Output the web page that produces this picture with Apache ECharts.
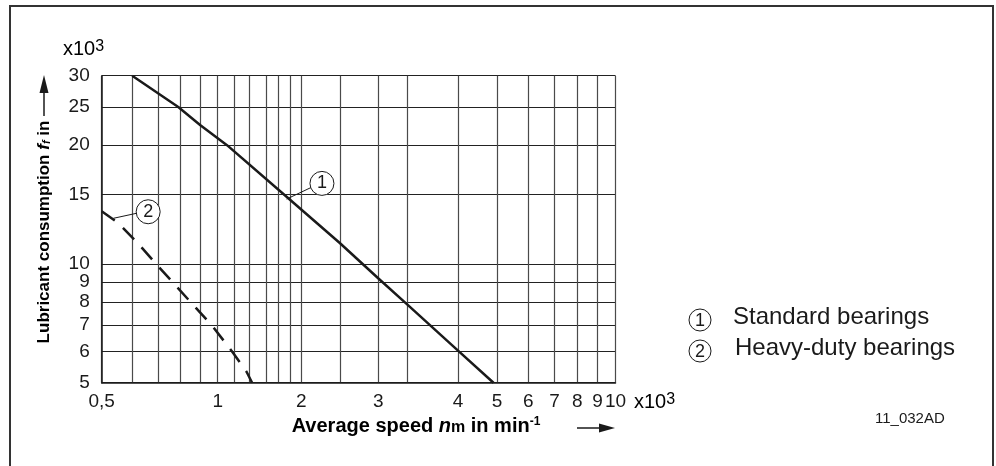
<!DOCTYPE html>
<html>
<head>
<meta charset="utf-8">
<script src="https://cdn.jsdelivr.net/npm/echarts@6/dist/echarts.min.js"></script>
<style>
  html, body { margin: 0; padding: 0; background: #fff; }
  #container { width: 996px; height: 466px; }
</style>
</head>
<body>
<div id="container"></div>
<script>
// speed in x10^3 min^-1, consumption in x10^3
var standardSpeed = [0.6, 0.79, 0.9, 1.08, 1.77, 2.45, 3, 3.33, 4, 4.9];
var standardUse = [30, 25, 22.5, 20, 14.8, 11.3, 9.2, 7.9, 6.03, 5];
var heavySpeed = [0.5, 0.552, 0.62, 0.695, 0.775, 0.864, 0.97, 1.14, 1.27, 1.33];
var heavyUse = [13.6, 12.7, 11.3, 9.95, 8.85, 7.87, 6.95, 5.93, 5.33, 5];

var xLabels = [0.5, 1, 2, 3, 4, 5, 6, 7, 8, 9, 10];
var xGrid = [0.5, 0.6, 0.7, 0.8, 0.9, 1, 1.15, 1.3, 1.5, 1.65, 1.83, 2, 2.45, 3, 3.33, 4, 5, 6, 7, 8, 9, 10];
var yLabels = [5, 6, 7, 8, 9, 10, 15, 20, 25, 30];

// the speed axis is not one log scale, each section between these values has its own length
var xKnots = [0.5, 1, 2, 3, 4, 5, 10];
var xKnotPos = [0, 0.2258, 0.3885, 0.5381, 0.6935, 0.7694, 1];

function toAxis(v) {
  var i = 0;
  while (i < xKnots.length - 2 && v > xKnots[i + 1]) i++;
  var t = Math.log(v / xKnots[i]) / Math.log(xKnots[i + 1] / xKnots[i]);
  return xKnotPos[i] + t * (xKnotPos[i + 1] - xKnotPos[i]);
}

function fromAxis(u) {
  var i = 0;
  while (i < xKnotPos.length - 2 && u > xKnotPos[i + 1] + 1e-9) i++;
  var t = (u - xKnotPos[i]) / (xKnotPos[i + 1] - xKnotPos[i]);
  return xKnots[i] * Math.pow(xKnots[i + 1] / xKnots[i], t);
}

function pairs(xs, ys) {
  return xs.map(function (x, i) { return [toAxis(x), ys[i]]; });
}

var font = 'Liberation Sans, Arial, sans-serif';
var ink = '#1a1a1a';

function circled(x, y) {
  return {
    coord: [toAxis(x), y],
    symbol: 'circle',
    symbolSize: 24,
    itemStyle: { color: '#fff', borderColor: ink, borderWidth: 1 },
    label: { show: true, position: 'inside', color: ink, fontSize: 18, fontFamily: font }
  };
}

function leader(x1, y1, x2, y2) {
  return [{ coord: [toAxis(x1), y1] }, { coord: [toAxis(x2), y2] }];
}

function arrowUp(x, yTail, yTip) {
  return {
    type: 'group',
    children: [
      { type: 'line', shape: { x1: x, y1: yTail, x2: x, y2: yTip + 16 }, style: { stroke: ink, lineWidth: 1.5 } },
      { type: 'polygon', shape: { points: [[x - 4.5, yTip + 18], [x + 4.5, yTip + 18], [x, yTip]] }, style: { fill: ink } }
    ]
  };
}

function arrowRight(xTail, xTip, y) {
  return {
    type: 'group',
    children: [
      { type: 'line', shape: { x1: xTail, y1: y, x2: xTip - 12, y2: y }, style: { stroke: ink, lineWidth: 1.5 } },
      { type: 'polygon', shape: { points: [[xTip - 16, y - 4.5], [xTip - 16, y + 4.5], [xTip, y]] }, style: { fill: ink } }
    ]
  };
}

function legendItem(num, text, cy, tx) {
  return {
    type: 'group',
    children: [
      { type: 'circle', shape: { cx: 700, cy: cy, r: 11 }, style: { fill: '#fff', stroke: ink, lineWidth: 1 } },
      { type: 'text', x: 700, y: cy + 1, style: { text: num, font: '18px ' + font, fill: ink, align: 'center', verticalAlign: 'middle' } },
      { type: 'text', x: tx, y: cy - 3, style: { text: text, font: '24px ' + font, fill: ink, align: 'left', verticalAlign: 'middle' } }
    ]
  };
}

var unitRich = {
  a: { fontSize: 20, fontFamily: font, color: ink, verticalAlign: 'bottom' },
  b: { fontSize: 16, fontFamily: font, color: ink, verticalAlign: 'top' }
};

var dom = document.getElementById('container');
var myChart = echarts.init(dom);

var option = {
  animation: false,
  backgroundColor: '#fff',
  grid: { left: 101.7, right: 380.5, top: 75.7, bottom: 83.3 },
  xAxis: {
    type: 'value',
    min: 0,
    max: 1,
    axisLine: { show: true, lineStyle: { color: ink, width: 1.5 } },
    axisTick: { show: false, customValues: xGrid.map(toAxis) },
    axisLabel: {
      customValues: xLabels.map(toAxis),
      fontSize: 19,
      fontFamily: font,
      color: ink,
      margin: 10,
      formatter: function (u) {
        var v = Math.round(fromAxis(u) * 100) / 100;
        return String(v).replace('.', ',');
      }
    },
    splitLine: { show: true, lineStyle: { color: '#4a4a4a', width: 1.2 } }
  },
  yAxis: {
    type: 'log',
    logBase: 10,
    min: 5,
    max: 30,
    axisLine: { show: true, lineStyle: { color: ink, width: 1.5 } },
    axisTick: { show: false, customValues: yLabels },
    axisLabel: { customValues: yLabels, fontSize: 19, fontFamily: font, color: ink, margin: 12 },
    splitLine: { show: true, lineStyle: { color: '#222', width: 1.2 } }
  },
  series: [
    {
      name: 'Standard bearings',
      type: 'line',
      data: pairs(standardSpeed, standardUse),
      symbol: 'none',
      lineStyle: { color: ink, width: 2.5 },
      markPoint: { silent: true, data: [circled(2.23, 16.0)], label: { formatter: '1' } },
      markLine: {
        silent: true,
        symbol: ['none', 'none'],
        label: { show: false },
        lineStyle: { color: ink, width: 1, type: 'solid' },
        data: [leader(1.77, 14.6, 2.11, 15.64)]
      }
    },
    {
      name: 'Heavy-duty bearings',
      type: 'line',
      data: pairs(heavySpeed, heavyUse),
      symbol: 'none',
      lineStyle: { color: ink, width: 2.5, type: [16, 11] },
      markPoint: { silent: true, data: [circled(0.66, 13.56)], label: { formatter: '2' } },
      markLine: {
        silent: true,
        symbol: ['none', 'none'],
        label: { show: false },
        lineStyle: { color: ink, width: 1, type: 'solid' },
        data: [leader(0.536, 13.05, 0.616, 13.44)]
      }
    }
  ],
  graphic: [
    { type: 'rect', shape: { x: 10, y: 6, width: 983, height: 480 }, style: { fill: 'none', stroke: '#333', lineWidth: 2 }, silent: true },
    { type: 'text', x: 63, y: 49, style: { text: '{a|x10}{b|3}', rich: unitRich, align: 'left', verticalAlign: 'middle' } },
    { type: 'text', x: 634, y: 402, style: { text: '{a|x10}{b|3}', rich: unitRich, align: 'left', verticalAlign: 'middle' } },
    {
      type: 'text', x: 44, y: 232, rotation: Math.PI / 2,
      style: {
        text: '{b|Lubricant consumption }{i|f}{s|f}{b| in}',
        align: 'center', verticalAlign: 'middle',
        rich: {
          b: { fontSize: 17, fontWeight: 'bold', fontFamily: font, color: ink },
          i: { fontSize: 17, fontWeight: 'bold', fontStyle: 'italic', fontFamily: font, color: ink },
          s: { fontSize: 11, fontWeight: 'bold', fontStyle: 'italic', fontFamily: font, color: ink, verticalAlign: 'bottom' }
        }
      }
    },
    arrowUp(44, 116, 75),
    {
      type: 'text', x: 416, y: 426,
      style: {
        text: '{b|Average speed }{i|n}{s|m}{b| in min}{p|-1}',
        align: 'center', verticalAlign: 'middle',
        rich: {
          b: { fontSize: 20, fontWeight: 'bold', fontFamily: font, color: ink },
          i: { fontSize: 20, fontWeight: 'bold', fontStyle: 'italic', fontFamily: font, color: ink },
          s: { fontSize: 16, fontWeight: 'bold', fontFamily: font, color: ink, verticalAlign: 'bottom' },
          p: { fontSize: 12, fontWeight: 'bold', fontFamily: font, color: ink, verticalAlign: 'top' }
        }
      }
    },
    arrowRight(577, 615, 428),
    legendItem('1', 'Standard bearings', 320, 733),
    legendItem('2', 'Heavy-duty bearings', 351, 735),
    { type: 'text', x: 875, y: 419, style: { text: '11_032AD', font: '15px ' + font, fill: ink, align: 'left', verticalAlign: 'middle' } }
  ]
};

if (option && typeof option === 'object') {
  myChart.setOption(option);
}
</script>
</body>
</html>
